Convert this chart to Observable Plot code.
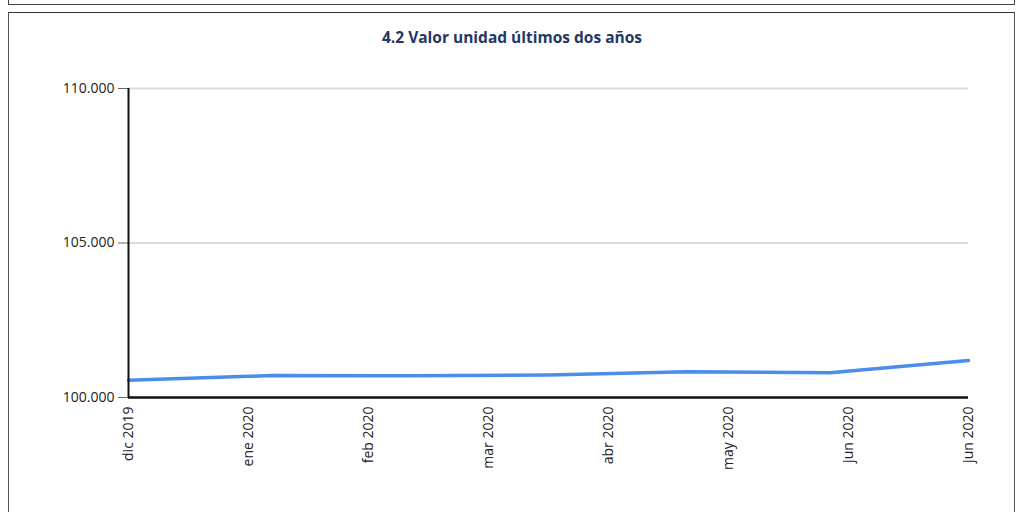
<!DOCTYPE html>
<html>
<head>
<meta charset="utf-8">
<script src="https://cdn.jsdelivr.net/npm/d3@7"></script>
<script src="https://cdn.jsdelivr.net/npm/@observablehq/plot@0.6"></script>
<style>
  html, body { margin: 0; padding: 0; background: #fff; }
  #wrap { position: relative; width: 1024px; height: 512px; overflow: hidden; font-family: "Open Sans", sans-serif; }
  .box-prev { position: absolute; left: 8px; top: -10px; width: 1005px; height: 13px; border: 1.5px solid #444; }
  .box { position: absolute; left: 8px; top: 12px; width: 1005px; height: 520px; border: 1.5px solid #555; border-top-color: #333; }
  #title { position: absolute; left: 8px; width: 1008px; top: 26px; text-align: center; font-weight: 700; font-size: 15.5px; color: #1F3864; }
  #chart { position: absolute; left: 0; top: 0; }
  #chart svg text { font-size: 14px; }
</style>
</head>
<body>
<div id="wrap">
  <div class="box-prev"></div>
  <div class="box"></div>
  <div id="title">4.2 Valor unidad últimos dos años</div>
  <div id="chart"></div>
</div>
<script>
// Data (month-end unit values)
const dates = ["2019-12-31", "2020-01-31", "2020-02-29", "2020-03-31", "2020-04-30", "2020-05-31", "2020-06-30"];
const values = [100560, 100710, 100700, 100730, 100830, 100800, 101200];

// X axis ticks and labels
const tickDates = ["2019-12-31", "2020-01-26", "2020-02-21", "2020-03-18", "2020-04-13", "2020-05-09", "2020-06-04", "2020-06-30"];
const tickLabels = ["dic 2019", "ene 2020", "feb 2020", "mar 2020", "abr 2020", "may 2020", "jun 2020", "jun 2020"];

// Y axis ticks
const yTicks = [100000, 105000, 110000];
const yDomain = [100000, 110000];

const data = dates.map((d, i) => ({date: new Date(d + "T00:00:00Z"), value: values[i]}));
const tDates = tickDates.map(d => new Date(d + "T00:00:00Z"));
const xDomain = [tDates[0], tDates[tDates.length - 1]];

const loc = d3.formatLocale({decimal: ",", thousands: ".", grouping: [3], currency: ["", ""]});
const fmt = loc.format(",");

const plot = Plot.plot({
  width: 1024,
  height: 512,
  marginLeft: 128,
  marginRight: 56,
  marginTop: 88,
  marginBottom: 115,
  style: {fontFamily: "'Open Sans', sans-serif", fontSize: "14px", color: "#222", background: "transparent"},
  x: {type: "utc", domain: xDomain},
  y: {domain: yDomain},
  marks: [
    Plot.ruleY(yTicks.slice(1), {stroke: "#dcdcdc", strokeWidth: 2}),
    Plot.axisY({ticks: yTicks, tickFormat: fmt, tickSize: 10, tickPadding: 4, stroke: "#666", label: null, fontSize: 14}),
    Plot.axisX({ticks: tDates, tickFormat: (d, i) => tickLabels[i], tickSize: 0, tickPadding: 9, tickRotate: -90, label: null, fontSize: 14}),
    Plot.lineY(data, {x: "date", y: "value", stroke: "#4A8DEB", strokeWidth: 3.5, curve: "linear"}),
    Plot.ruleX([xDomain[0]], {y1: yDomain[0], y2: yDomain[1], stroke: "#111", strokeWidth: 2}),
    Plot.ruleY([yDomain[0]], {stroke: "#111", strokeWidth: 2.5})
  ]
});
document.getElementById("chart").appendChild(plot);
</script>
</body>
</html>
